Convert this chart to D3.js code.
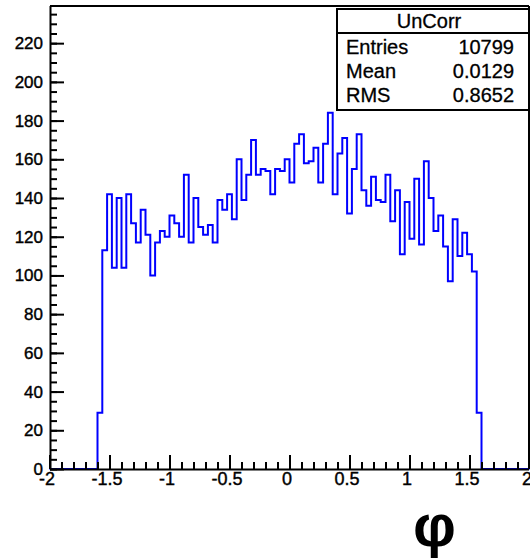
<!DOCTYPE html>
<html><head><meta charset="utf-8">
<script src="https://cdn.jsdelivr.net/npm/d3@7"></script>
<style>
body{margin:0;background:#fff}
text{font-family:"Liberation Sans",Arial,Helvetica,sans-serif;fill:#000}
</style>
</head><body>
<svg id="c" width="530" height="559"></svg>
<script>
// ---- data ----
const xMin = -2, xMax = 2, nBins = 100;
const counts = [
  0,0,0,0,0,0,0,0,0,0,
  29,
  113,142,104,140,104,142,127,117,134,121,100,117,123,120,131,127,120,152,117,140,125,121,126,117,139,134,
  142,129,160,139,152,170,152,155,154,142,155,154,160,148,168,173,158,159,166,148,168,184,142,163,171,132,155,
  173,144,136,151,139,138,152,128,144,111,138,119,150,116,159,140,123,131,115,97,129,110,122,111,102,
  29,
  0,0,0,0,0,0,0,0,0,0
];
const xTickValues = [-2,-1.5,-1,-0.5,0,0.5,1,1.5,2];
const xTickLabels = ["-2","-1.5","-1","-0.5","0","0.5","1","1.5","2"];
const yTickValues = [0,20,40,60,80,100,120,140,160,180,200,220];
const yTickLabels = ["0","20","40","60","80","100","120","140","160","180","200","220"];
const yMax = 239.2;
const statsTitle = "UnCorr";
const statsLabels = ["Entries","Mean","RMS"];
const statsValues = ["10799","0.0129","0.8652"];
const xAxisTitle = "φ";

// ---- layout ----
const svg = d3.select("#c");
svg.append("rect").attr("width",530).attr("height",559).attr("fill","#fff");
const L = 50, R = 529, T = 6, B = 469;
const x = d3.scaleLinear().domain([xMin,xMax]).range([49.5,529.5]);
const y = d3.scaleLinear().domain([0,yMax]).range([B,T]);

// histogram step path
const w = (xMax-xMin)/nBins;
const pts = [];
counts.forEach((c,i)=>{ const lo = xMin+i*w; pts.push([lo,c]); pts.push([lo+w,c]); });
const line = d3.line().x(d=>x(d[0])).y(d=>y(d[1]));
svg.append("path").attr("d",line(pts)).attr("fill","none")
  .attr("stroke","#0000ff").attr("stroke-width",2).attr("stroke-linejoin","miter");

// frame
svg.append("line").attr("x1",L).attr("x2",R).attr("y1",T).attr("y2",T).attr("stroke","#000").attr("stroke-width",2);
svg.append("line").attr("x1",R).attr("x2",R).attr("y1",T).attr("y2",B).attr("stroke","#000").attr("stroke-width",2);

// y axis minor
const yMinor = d3.range(0, yMax, 5);
svg.append("g").attr("transform",`translate(${L},0)`)
  .call(d3.axisLeft(y).tickValues(yMinor).tickSizeInner(-7).tickSizeOuter(0).tickFormat(""))
  .call(g=>g.select(".domain").remove())
  .call(g=>g.selectAll("line").attr("stroke-width",2));
// y axis major
const yAx = svg.append("g").attr("transform",`translate(${L},0)`)
  .call(d3.axisLeft(y).tickValues(yTickValues).tickSizeInner(-14).tickSizeOuter(0).tickPadding(7)
    .tickFormat((d,i)=>yTickLabels[i]));
yAx.select(".domain").attr("stroke-width",2).attr("d",`M0.5,${B}V${T}`);
yAx.selectAll("line").attr("stroke-width",2);
yAx.selectAll("text").attr("font-size",17).attr("font-family","Liberation Sans, Arial, sans-serif")
  .attr("stroke","#000").attr("stroke-width",0.4);

// x axis minor
const xMinor = d3.range(-20, 21).map(k=>k/10);
svg.append("g").attr("transform",`translate(0,${B})`)
  .call(d3.axisBottom(x).tickValues(xMinor).tickSizeInner(-7).tickSizeOuter(0).tickFormat(""))
  .call(g=>g.select(".domain").remove())
  .call(g=>g.selectAll("line").attr("stroke-width",2));
// x axis major
const xAx = svg.append("g").attr("transform",`translate(0,${B})`)
  .call(d3.axisBottom(x).tickValues(xTickValues).tickSizeInner(-14).tickSizeOuter(0).tickPadding(3)
    .tickFormat((d,i)=>xTickLabels[i]));
xAx.select(".domain").attr("stroke-width",2).attr("d",`M${L},0.5H${R}`);
xAx.selectAll("line").attr("stroke-width",2);
xAx.selectAll("text").attr("font-size",18).attr("dx",-3).attr("font-family","Liberation Sans, Arial, sans-serif")
  .attr("stroke","#000").attr("stroke-width",0.4);

// stats box
const sb = svg.append("g");
sb.append("rect").attr("x",337).attr("y",9).attr("width",192).attr("height",101)
  .attr("fill","#fff").attr("stroke","#000").attr("stroke-width",2);
sb.append("line").attr("x1",337).attr("x2",529).attr("y1",33).attr("y2",33).attr("stroke","#000").attr("stroke-width",2);
sb.append("text").attr("x",429).attr("y",28).attr("text-anchor","middle").attr("font-size",20)
  .attr("stroke","#000").attr("stroke-width",0.3).text(statsTitle);
const rowY = [54,77.5,101.5];
statsLabels.forEach((s,i)=>{
  sb.append("text").attr("x",346).attr("y",rowY[i]).attr("font-size",20)
    .attr("stroke","#000").attr("stroke-width",0.3).text(s);
  sb.append("text").attr("x",514).attr("y",rowY[i]).attr("text-anchor","end").attr("font-size",20)
    .attr("stroke","#000").attr("stroke-width",0.3).text(statsValues[i]);
});

// axis title
svg.append("text").attr("x",434.5).attr("y",546).attr("text-anchor","middle")
  .attr("font-size",60).attr("font-weight","bold")
  .attr("font-family","DejaVu Sans, sans-serif").text(xAxisTitle);
</script>
</body></html>
